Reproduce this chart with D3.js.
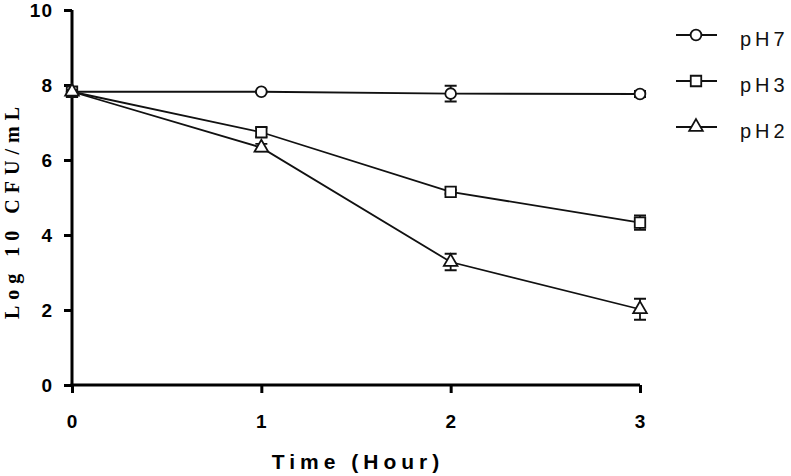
<!DOCTYPE html>
<html>
<head>
<meta charset="utf-8">
<script src="https://cdn.jsdelivr.net/npm/d3@7"></script>
<style>
  body { margin: 0; background: #fff; }
  svg { display: block; }
</style>
</head>
<body>
<div id="wrapper"></div>
<script>
// data
const hours = [0, 1, 2, 3]
const seriesNames = ["pH7", "pH3", "pH2"]
const ph7Values = [7.82, 7.82, 7.77, 7.76]
const ph7Errors = [0.05, 0.03, 0.21, 0.08]
const ph3Values = [7.82, 6.74, 5.15, 4.33]
const ph3Errors = [0.05, 0.12, 0.05, 0.19]
const ph2Values = [7.82, 6.33, 3.28, 2.02]
const ph2Errors = [0.05, 0.1, 0.22, 0.28]
const yTicks = [0, 2, 4, 6, 8, 10]
const xTicks = [0, 1, 2, 3]

const series = [
  {name: seriesNames[0], values: ph7Values, errors: ph7Errors, symbol: d3.symbolCircle, size: 90},
  {name: seriesNames[1], values: ph3Values, errors: ph3Errors, symbol: d3.symbolSquare, size: 110},
  {name: seriesNames[2], values: ph2Values, errors: ph2Errors, symbol: d3.symbolTriangle, size: 80},
]

const dimensions = {
  width: 791,
  height: 476,
  margin: {top: 10, right: 151, bottom: 91, left: 72},
}
dimensions.boundedWidth = dimensions.width - dimensions.margin.left - dimensions.margin.right
dimensions.boundedHeight = dimensions.height - dimensions.margin.top - dimensions.margin.bottom

const wrapper = d3.select("#wrapper").append("svg")
    .attr("width", dimensions.width)
    .attr("height", dimensions.height)

const bounds = wrapper.append("g")
    .attr("transform", `translate(${dimensions.margin.left},${dimensions.margin.top})`)

const xScale = d3.scaleLinear()
    .domain([0, 3])
    .range([0, dimensions.boundedWidth])

const yScale = d3.scaleLinear()
    .domain([0, 10])
    .range([dimensions.boundedHeight, 0])

// axes
const xAxis = bounds.append("g")
    .attr("transform", `translate(0,${dimensions.boundedHeight})`)
    .call(d3.axisBottom(xScale).tickValues(xTicks).tickFormat(d3.format("d")).tickSize(8).tickPadding(22).tickSizeOuter(0))
const yAxis = bounds.append("g")
    .call(d3.axisLeft(yScale).tickValues(yTicks).tickFormat(d3.format("d")).tickSize(8).tickPadding(11).tickSizeOuter(0))

;[xAxis, yAxis].forEach(ax => {
  ax.select(".domain").attr("stroke", "#000").attr("stroke-width", 3)
  ax.selectAll(".tick line").attr("stroke", "#000").attr("stroke-width", 3)
  ax.selectAll(".tick text")
      .attr("fill", "#000")
      .style("font-family", "'Liberation Sans', Arial, sans-serif")
      .style("font-weight", "bold")
      .style("font-size", "19px")
      .style("letter-spacing", "1px")
})
// make axes meet at the corner
xAxis.select(".domain").attr("d", `M-1.5,0H${dimensions.boundedWidth}`)
yAxis.select(".domain").attr("d", `M0,0V${dimensions.boundedHeight + 1.5}`)

// lines
const lineGenerator = d3.line()
    .x((d, i) => xScale(hours[i]))
    .y(d => yScale(d))

series.forEach(s => {
  bounds.append("path")
      .attr("d", lineGenerator(s.values))
      .attr("fill", "none")
      .attr("stroke", "#111")
      .attr("stroke-width", 1.8)
})

// error bars and markers
series.forEach(s => {
  const g = bounds.append("g")
  hours.forEach((h, i) => {
    const x = xScale(h)
    const y0 = yScale(s.values[i] - s.errors[i])
    const y1 = yScale(s.values[i] + s.errors[i])
    g.append("path")
        .attr("d", `M${x},${y0}V${y1}M${x - 6},${y0}H${x + 6}M${x - 6},${y1}H${x + 6}`)
        .attr("stroke", "#111")
        .attr("stroke-width", 1.8)
        .attr("fill", "none")
    g.append("path")
        .attr("d", d3.symbol(s.symbol, s.size)())
        .attr("transform", `translate(${x},${yScale(s.values[i])})`)
        .attr("fill", "#fff")
        .attr("stroke", "#111")
        .attr("stroke-width", 1.8)
  })
})

// axis labels
wrapper.append("text")
    .attr("x", dimensions.margin.left + dimensions.boundedWidth / 2 + 2)
    .attr("y", 469)
    .attr("text-anchor", "middle")
    .style("font-family", "'Liberation Sans', Arial, sans-serif")
    .style("font-weight", "bold")
    .style("font-size", "21px")
    .style("letter-spacing", "5px")
    .text("Time (Hour)")

wrapper.append("text")
    .attr("transform", `translate(19,210) rotate(-90)`)
    .attr("text-anchor", "middle")
    .style("font-family", "'Liberation Serif', 'Times New Roman', serif")
    .style("font-weight", "bold")
    .style("font-size", "20px")
    .style("letter-spacing", "6px")
    .text("Log 10 CFU/mL")

// legend
const legend = wrapper.append("g")
    .attr("transform", "translate(676,35)")
series.forEach((s, i) => {
  const row = legend.append("g").attr("transform", `translate(0,${i * 46})`)
  row.append("line")
      .attr("x1", 0).attr("x2", 41)
      .attr("stroke", "#111").attr("stroke-width", 1.8)
  row.append("path")
      .attr("d", d3.symbol(s.symbol, s.size)())
      .attr("transform", "translate(20,0)")
      .attr("fill", "#fff")
      .attr("stroke", "#111")
      .attr("stroke-width", 1.8)
  row.append("text")
      .attr("x", 64)
      .attr("y", 11)
      .style("font-family", "'Liberation Sans', Arial, sans-serif")
      .style("font-size", "20px")
      .style("letter-spacing", "4px")
      .attr("fill", "#111")
      .text(s.name)
})
</script>
</body>
</html>
